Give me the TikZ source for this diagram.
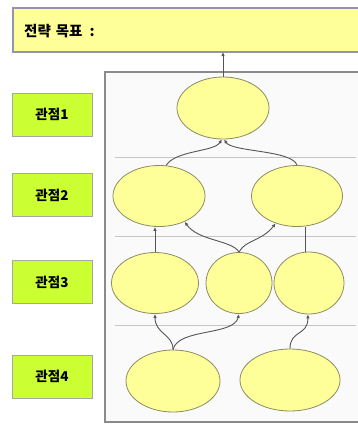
\documentclass[tikz,border=0pt]{standalone}
\usepackage{fontspec}
\newfontfamily\kr{Noto Sans CJK KR}
\usetikzlibrary{arrows.meta}
\definecolor{paleyellow}{HTML}{FFFF99}
\definecolor{lime}{HTML}{CCFF33}
\definecolor{bannerline}{HTML}{9494AC}
\definecolor{ellline}{HTML}{8C8C64}
\definecolor{frameline}{HTML}{8A8A8A}
\definecolor{wire}{HTML}{555555}
\tikzset{
  banner/.style={draw=bannerline, line width=1.2pt, fill=paleyellow},
  viewbox/.style={draw=gray!70, line width=1pt, fill=lime, minimum width=80pt,
    minimum height=43pt, inner sep=0pt, font=\kr\bfseries\fontsize{13.5}{15}\selectfont},
  ell/.style={ellipse, draw=ellline, line width=0.8pt, fill=paleyellow, inner sep=0pt},
  arr/.style={draw=wire, line width=0.9pt, -{Latex[length=4pt,width=3.5pt]}},
  wireline/.style={draw=wire, line width=0.9pt},
  divider/.style={draw=gray!45, line width=0.8pt},
}
\usetikzlibrary{shapes.geometric}
\begin{document}
\begin{tikzpicture}[x=1pt, y=-1pt]
  \useasboundingbox (0,0) rectangle (358,426);
  \clip (0,0) rectangle (358,426);
  \fill[white] (0,0) rectangle (358,426);

  % strategic goal banner
  \draw[banner] (13,8) rectangle (372,52);
  \node[anchor=west, inner sep=0pt, font=\kr\bfseries\fontsize{14.5}{16}\selectfont]
    at (24,31) {전략\hspace{5pt}목표\hspace{7pt}:};
  \coordinate (g) at (223,52);

  % frame holding the map
  \draw[draw=frameline, line width=1.6pt, fill=gray!4] (105,72) rectangle (380,422);

  % perspective labels
  \node[viewbox] (p1) at (52,114.5) {관점1};
  \node[viewbox] (p2) at (52,195) {관점2};
  \node[viewbox] (p3) at (52,282) {관점3};
  \node[viewbox] (p4) at (52,376.5) {관점4};

  % row dividers
  \draw[divider] (115,157) -- (356,157);
  \draw[divider] (115,236) -- (356,236);
  \draw[divider] (115,325) -- (356,325);

  % objectives
  \node[ell, minimum width=92pt, minimum height=62pt] (a)  at (223,108) {};
  \node[ell, minimum width=92pt, minimum height=61pt] (b1) at (159,196) {};
  \node[ell, minimum width=91pt, minimum height=61pt] (b2) at (297,196) {};
  \node[ell, minimum width=87pt, minimum height=61pt] (c1) at (155,283) {};
  \node[ell, minimum width=66pt, minimum height=61pt] (c2) at (239,283) {};
  \node[ell, minimum width=70pt, minimum height=62pt] (c3) at (309,283) {};
  \node[ell, minimum width=94pt, minimum height=62pt] (d1) at (173,381) {};
  \node[ell, minimum width=100pt, minimum height=62pt] (d2) at (290,380) {};

  % links
  \draw[arr] (a.north) -- (g);
  \draw[arr] (b1.77) .. controls (176,150) and (214,152) .. (a.-92);
  \draw[arr] (b2.90) .. controls (292,150) and (232,152) .. (a.-88);
  \draw[arr] (c1.north) -- (c1.north |- b1.south);
  \draw[arr] (c2.north) .. controls (232,240) and (198,241) .. (b1.-45);
  \draw[arr] (c2.north) .. controls (245,240) and (262,241) .. (b2.-128);
  \draw[wireline] (c3.97) -- (c3.97 |- b2.south);
  \draw[arr] (d1.north) .. controls (173,334) and (155,334) .. (c1.-90);
  \draw[arr] (d1.north) .. controls (178,328) and (234,336) .. (c2.-90);
  \draw[arr] (d2.north) .. controls (290,330) and (308,336) .. (c3.-92);
\end{tikzpicture}
\end{document}
